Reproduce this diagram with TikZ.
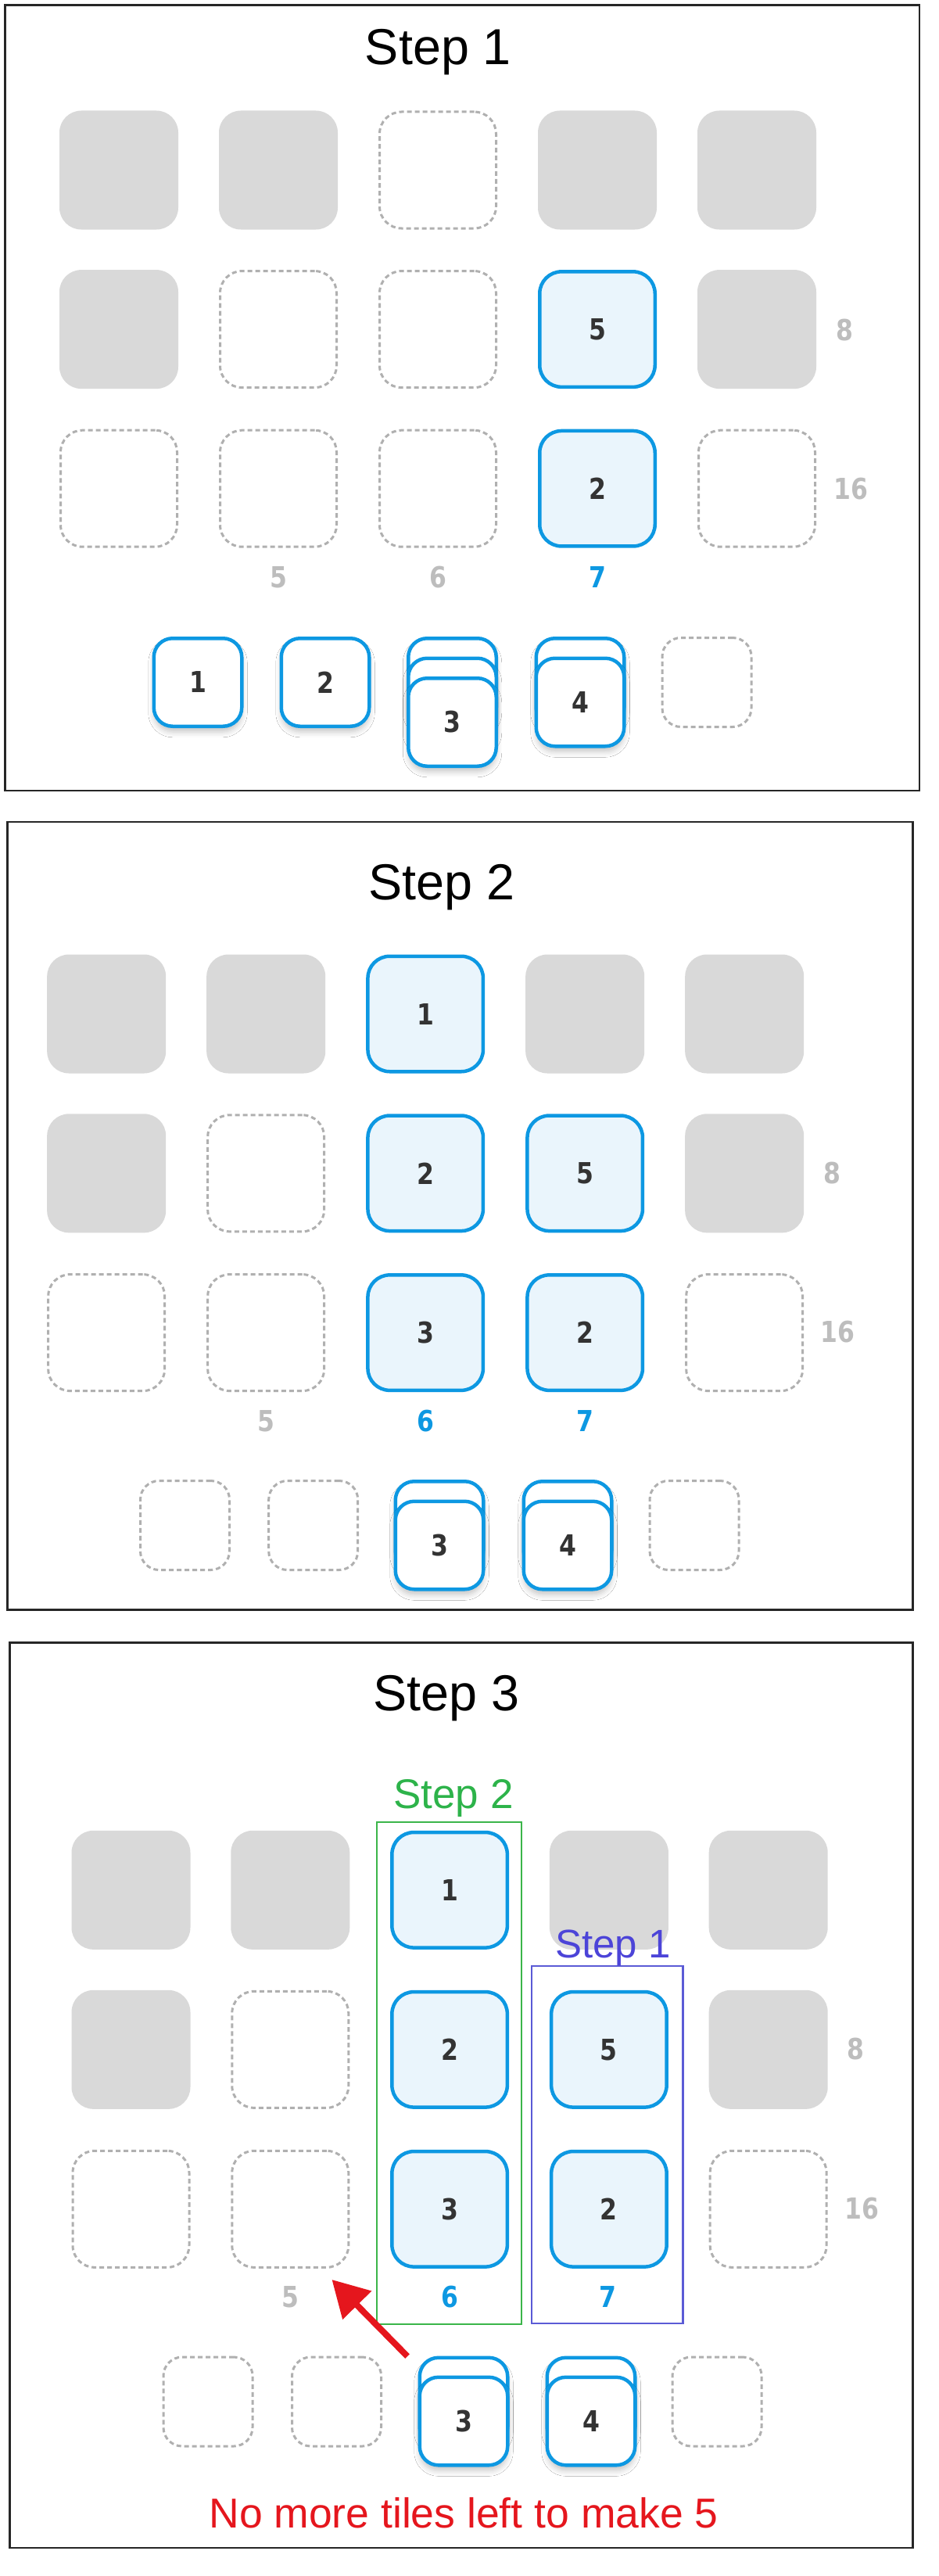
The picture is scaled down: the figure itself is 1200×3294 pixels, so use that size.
\documentclass[tikz,border=0pt]{standalone}
\usepackage{fontspec}
\setmainfont{Liberation Sans}
\newfontfamily\numfont{DejaVu Sans}[FakeStretch=0.85]
\usetikzlibrary{arrows.meta,shadows.blur}
\definecolor{tileblue}{HTML}{0D98E2}
\definecolor{tilefill}{HTML}{EAF5FC}
\definecolor{tilegray}{HTML}{D9D9D9}
\definecolor{holegray}{HTML}{B0B0B0}
\definecolor{labelgray}{HTML}{BDBDBD}
\definecolor{numdark}{HTML}{333333}
\definecolor{framecol}{HTML}{262626}
\definecolor{greenbox}{HTML}{3BB54A}
\definecolor{greentext}{HTML}{2DB34A}
\definecolor{purplebox}{HTML}{5B5BD6}
\definecolor{purpletext}{HTML}{4C44D8}
\definecolor{redtext}{HTML}{E5161D}
\tikzset{
  tilebase/.style={rectangle, inner sep=0pt, rounded corners=28pt,
    font=\numfont\bfseries\fontsize{37pt}{40pt}\selectfont, text=numdark},
  graytile/.style={tilebase, fill=tilegray, minimum size=152pt},
  holetile/.style={tilebase, draw=holegray, line width=3pt, dash pattern=on 6pt off 4pt, minimum size=149pt},
  bluetile/.style={tilebase, draw=tileblue, fill=tilefill, line width=4.5pt, minimum size=147.5pt},
  pooltile/.style={tilebase, rounded corners=24pt, draw=tileblue, fill=white, line width=4.5pt,
    minimum size=112.5pt,
    blur shadow={shadow xshift=0pt, shadow yshift=-7pt, shadow blur radius=7pt, shadow opacity=22}},
  poolhole/.style={tilebase, rounded corners=24pt, draw=holegray, line width=3pt,
    dash pattern=on 6pt off 4pt, minimum size=114pt},
  graylabel/.style={font=\numfont\bfseries\fontsize{37pt}{40pt}\selectfont, text=labelgray, inner sep=0pt},
  bluelabel/.style={graylabel, text=tileblue},
  titletext/.style={font=\fontsize{64.7pt}{70pt}\selectfont, text=black, anchor=base, inner sep=0pt},
  frame/.style={draw=framecol, line width=2.5pt},
}
\def\gridA{1/1/graytile/{},1/2/graytile/{},1/3/holetile/{},1/4/graytile/{},1/5/graytile/{},
 2/1/graytile/{},2/2/holetile/{},2/3/holetile/{},2/4/bluetile/5,2/5/graytile/{},
 3/1/holetile/{},3/2/holetile/{},3/3/holetile/{},3/4/bluetile/2,3/5/holetile/{}}
\def\gridB{1/1/graytile/{},1/2/graytile/{},1/3/bluetile/1,1/4/graytile/{},1/5/graytile/{},
 2/1/graytile/{},2/2/holetile/{},2/3/bluetile/2,2/4/bluetile/5,2/5/graytile/{},
 3/1/holetile/{},3/2/holetile/{},3/3/bluetile/3,3/4/bluetile/2,3/5/holetile/{}}
\begin{document}
\begin{tikzpicture}[x=1pt,y=-1pt]
\useasboundingbox (0,0) rectangle (1200,3294);
\fill[white] (0,0) rectangle (1200,3294);

% ---------------- Panel 1 ----------------
\draw[frame] (6.7,6.7) rectangle (1176,1011);
\node[titletext] (ta) at (560.5,83) {Step 1};
\foreach \r/\c/\s/\t in \gridA
  \node[\s] (pa-\r-\c) at ({152+204*(\c-1)},{217.5+203.6*(\r-1)}) {\t};
\node[graylabel] (pa-l5) at (356,738) {5};
\node[graylabel] (pa-l6) at (560,738) {6};
\node[bluelabel] (pa-l7) at (764,738) {7};
\node[graylabel] (pa-l8) at (1080,422) {8};
\node[graylabel] (pa-l16) at (1088,625) {16};
\node[pooltile] (pa-t1) at (253,872.5) {1};
\node[pooltile] (pa-t2) at (416,872.5) {2};
\node[pooltile] (pa-t3a) at (578.5,872.5) {};
\node[pooltile] (pa-t3b) at (578.5,898) {};
\node[pooltile] (pa-t3c) at (578.5,923.5) {3};
\node[pooltile] (pa-t4a) at (742,872.5) {};
\node[pooltile] (pa-t4b) at (742,898) {4};
\node[poolhole] (pa-t5) at (904,872.5) {};

% ---------------- Panel 2 ----------------
\draw[frame] (9.3,1051) rectangle (1167.7,2058.3);
\node[titletext] (tb) at (565,1150.4) {Step 2};
\foreach \r/\c/\s/\t in \gridB
  \node[\s] (pb-\r-\c) at ({136.2+204*(\c-1)},{1296.5+203.8*(\r-1)}) {\t};
\node[graylabel] (pb-l5) at (340,1817) {5};
\node[bluelabel] (pb-l6) at (544,1817) {6};
\node[bluelabel] (pb-l7) at (748,1817) {7};
\node[graylabel] (pb-l8) at (1064,1500) {8};
\node[graylabel] (pb-l16) at (1071,1703) {16};
\node[poolhole] (pb-t1) at (236.5,1950.5) {};
\node[poolhole] (pb-t2) at (400.7,1950.5) {};
\node[pooltile] (pb-t3a) at (562,1950.5) {};
\node[pooltile] (pb-t3b) at (562,1976) {3};
\node[pooltile] (pb-t4a) at (726,1950.5) {};
\node[pooltile] (pb-t4b) at (726,1976) {4};
\node[poolhole] (pb-t5) at (888,1950.5) {};

% ---------------- Panel 3 ----------------
\draw[frame] (12.7,2100.7) rectangle (1167.7,3258);
\node[titletext] (tc) at (571,2187.4) {Step 3};
\foreach \r/\c/\s/\t in \gridB
  \node[\s] (pc-\r-\c) at ({167.5+203.8*(\c-1)},{2416.8+204*(\r-1)}) {\t};
\node[graylabel] (pc-l5) at (371,2937) {5};
\node[bluelabel] (pc-l6) at (575,2937) {6};
\node[bluelabel] (pc-l7) at (777,2937) {7};
\node[graylabel] (pc-l8) at (1094,2620) {8};
\node[graylabel] (pc-l16) at (1102,2824) {16};
\node[poolhole] (pc-t1) at (266,3071) {};
\node[poolhole] (pc-t2) at (430.5,3071) {};
\node[pooltile] (pc-t3a) at (593,3071) {};
\node[pooltile] (pc-t3b) at (593,3096) {3};
\node[pooltile] (pc-t4a) at (756,3071) {};
\node[pooltile] (pc-t4b) at (756,3096) {4};
\node[poolhole] (pc-t5) at (917,3071) {};

\draw[draw=greenbox, line width=2.5pt] (482,2330) rectangle (667,2972);
\draw[draw=purplebox, line width=2.5pt] (680,2514) rectangle (873.5,2971);
\node[anchor=base, inner sep=0pt, text=greentext, font=\fontsize{53pt}{58pt}\selectfont] (lab2) at (580,2312) {Step 2};
\node[anchor=base, inner sep=0pt, text=purpletext, font=\fontsize{51pt}{56pt}\selectfont] (lab1) at (784,2503) {Step 1};
\node[anchor=base, inner sep=0pt, text=redtext, font=\fontsize{53.5pt}{58pt}\selectfont] (msg) at (593,3232) {No more tiles left to make 5};
\coordinate (arrtail) at (521,3013);
\coordinate (arrtip) at (424.5,2915);
\draw[redtext, line width=8pt, -{Triangle[length=46pt,width=50pt]}] (arrtail) -- (arrtip);
\end{tikzpicture}
\end{document}
